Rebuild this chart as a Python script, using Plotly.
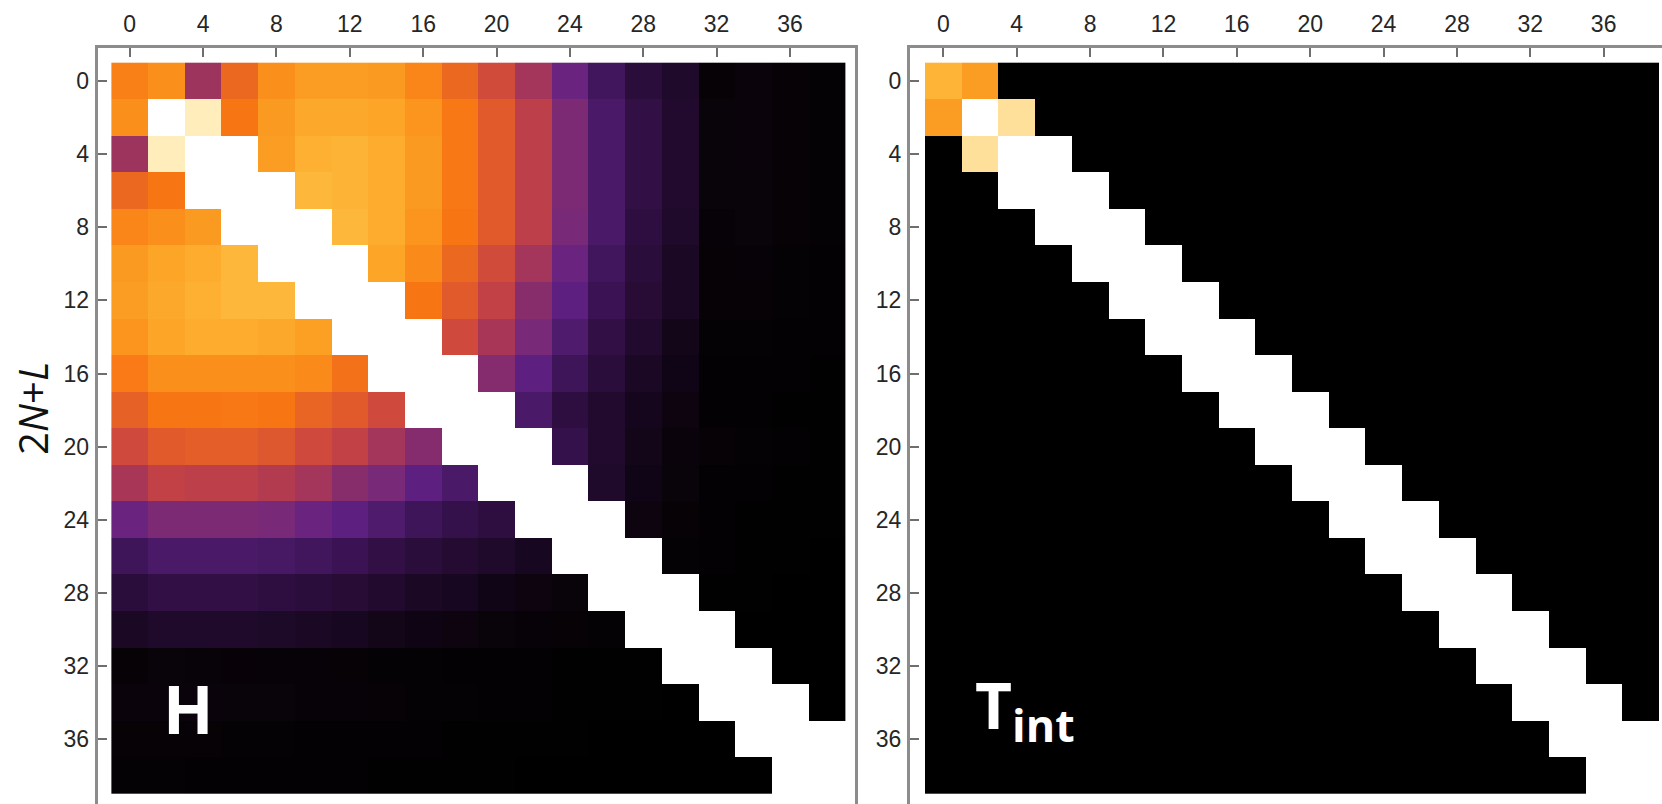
import plotly.graph_objects as go

# Index values along both matrix axes (2N+L = 0, 2, ..., 38)
idx = list(range(0, 40, 2))
tick_vals = list(range(0, 40, 4))

# Normalised matrix magnitudes for H (None = excluded entries)
N = None
H_vals = [
    [0.67, 0.70, 0.45, 0.62, 0.70, 0.73, 0.73, 0.72, 0.68, 0.62, 0.55, 0.46, 0.34, 0.23, 0.16, 0.12, 0.02, 0.035, 0.02, 0.015],
    [0.70, N, 0.98, 0.65, 0.72, 0.77, 0.77, 0.76, 0.71, 0.655, 0.58, 0.51, 0.38, 0.26, 0.18, 0.13, 0.03, 0.035, 0.02, 0.015],
    [0.45, 0.98, N, N, 0.73, 0.79, 0.80, 0.78, 0.72, 0.655, 0.58, 0.51, 0.38, 0.26, 0.18, 0.13, 0.03, 0.035, 0.02, 0.015],
    [0.62, 0.65, N, N, N, 0.82, 0.80, 0.78, 0.72, 0.655, 0.58, 0.51, 0.38, 0.26, 0.18, 0.13, 0.03, 0.03, 0.02, 0.015],
    [0.68, 0.70, 0.72, N, N, N, 0.82, 0.78, 0.71, 0.65, 0.58, 0.51, 0.37, 0.26, 0.17, 0.12, 0.025, 0.03, 0.02, 0.015],
    [0.72, 0.76, 0.78, 0.82, N, N, N, 0.76, 0.69, 0.62, 0.55, 0.46, 0.34, 0.23, 0.16, 0.10, 0.02, 0.025, 0.015, 0.01],
    [0.73, 0.77, 0.79, 0.82, 0.82, N, N, N, 0.65, 0.58, 0.52, 0.41, 0.31, 0.21, 0.15, 0.10, 0.02, 0.02, 0.015, 0.01],
    [0.71, 0.76, 0.78, 0.78, 0.77, 0.74, N, N, N, 0.545, 0.47, 0.37, 0.27, 0.18, 0.13, 0.07, 0.015, 0.015, 0.01, 0.01],
    [0.66, 0.70, 0.70, 0.70, 0.70, 0.69, 0.64, N, N, N, 0.40, 0.31, 0.22, 0.16, 0.10, 0.06, 0.012, 0.012, 0.01, 0.008],
    [0.60, 0.65, 0.65, 0.655, 0.65, 0.61, 0.58, 0.545, N, N, N, 0.26, 0.17, 0.13, 0.08, 0.045, 0.01, 0.01, 0.008, 0.006],
    [0.545, 0.58, 0.59, 0.59, 0.575, 0.545, 0.52, 0.46, 0.40, N, N, N, 0.19, 0.13, 0.07, 0.035, 0.02, 0.015, 0.01, 0.008],
    [0.47, 0.52, 0.51, 0.51, 0.49, 0.46, 0.41, 0.37, 0.31, 0.26, N, N, N, 0.12, 0.06, 0.03, 0.012, 0.01, 0.008, 0.006],
    [0.34, 0.38, 0.38, 0.38, 0.37, 0.34, 0.31, 0.27, 0.22, 0.19, 0.17, N, N, N, 0.045, 0.02, 0.01, 0.008, 0.006, 0.005],
    [0.22, 0.26, 0.26, 0.26, 0.25, 0.23, 0.21, 0.18, 0.16, 0.14, 0.12, 0.09, N, N, N, 0.015, 0.01, 0.008, 0.005, 0.004],
    [0.16, 0.18, 0.18, 0.18, 0.17, 0.16, 0.15, 0.13, 0.10, 0.09, 0.06, 0.045, 0.03, N, N, N, 0.008, 0.005, 0.004, 0.003],
    [0.10, 0.12, 0.12, 0.12, 0.11, 0.10, 0.09, 0.07, 0.055, 0.045, 0.03, 0.025, 0.02, 0.015, N, N, N, 0.004, 0.003, 0.002],
    [0.02, 0.03, 0.028, 0.026, 0.024, 0.022, 0.02, 0.018, 0.016, 0.014, 0.012, 0.01, 0.008, 0.006, 0.005, N, N, N, 0.002, 0.002],
    [0.035, 0.035, 0.035, 0.03, 0.03, 0.025, 0.022, 0.02, 0.018, 0.015, 0.012, 0.01, 0.008, 0.006, 0.005, 0.004, N, N, N, 0.001],
    [0.02, 0.02, 0.02, 0.018, 0.016, 0.014, 0.012, 0.01, 0.009, 0.008, 0.007, 0.006, 0.005, 0.004, 0.003, 0.003, 0.002, N, N, N],
    [0.015, 0.015, 0.014, 0.012, 0.011, 0.01, 0.009, 0.008, 0.007, 0.006, 0.005, 0.004, 0.003, 0.003, 0.002, 0.002, 0.001, 0.001, N, N],
]

# Normalised magnitudes for T_int: only the lowest entries are non-zero
T_nonzero = {(0, 0): 0.805, (0, 1): 0.73, (1, 0): 0.73, (1, 2): 0.93, (2, 1): 0.93}


def excluded(r, c):
    return H_vals[r][c] is None


T_vals = [[None if excluded(r, c) else T_nonzero.get((r, c), 0.0)
           for c in range(len(idx))] for r in range(len(idx))]

# Sunset-style colour map: black -> purple -> red -> orange -> cream
sunset = [
    [0.00, "#000000"], [0.02, "#060206"], [0.05, "#0e0412"], [0.10, "#1a0824"],
    [0.15, "#280c36"], [0.20, "#381250"], [0.26, "#4a1a68"], [0.31, "#5e2080"],
    [0.34, "#6a2480"], [0.38, "#7c2a74"], [0.42, "#8c2e68"], [0.46, "#a3365a"],
    [0.50, "#b83c4c"], [0.54, "#cc4640"], [0.58, "#e05a2c"], [0.62, "#ea6820"],
    [0.65, "#f87514"], [0.69, "#fa8a1a"], [0.72, "#fb9a20"], [0.76, "#fca527"],
    [0.79, "#fdb032"], [0.82, "#fdb83c"], [0.90, "#fed888"], [1.00, "#fff2c8"],
]

W, Hpx = 1662, 804

fig = go.Figure()
fig.add_trace(go.Heatmap(z=H_vals, x=idx, y=idx, colorscale=sunset, zmin=0, zmax=1,
                         showscale=False, xaxis="x", yaxis="y", hoverongaps=False))
fig.add_trace(go.Heatmap(z=T_vals, x=idx, y=idx, colorscale=sunset, zmin=0, zmax=1,
                         showscale=False, xaxis="x2", yaxis="y2", hoverongaps=False))

frame = "#8c8c8c"
axis_common = dict(
    showline=True, linecolor=frame, linewidth=3,
    ticks="inside", ticklen=9, tickwidth=2, tickcolor="#6e6e6e",
    showgrid=False, zeroline=False,
    tickmode="array", tickvals=tick_vals,
    tickfont=dict(family="Liberation Sans", size=23, color="#262626"),
)
x_common = dict(axis_common, side="top", ticklabelstandoff=4)
y_common = dict(axis_common, ticklabelstandoff=1)

y_dom = [0, 1 - 48 / Hpx]

fig.update_layout(
    width=W, height=Hpx,
    margin=dict(l=0, r=0, t=0, b=0),
    paper_bgcolor="white", plot_bgcolor="white",
    xaxis=dict(x_common, anchor="y",
               domain=[97.6 / W, 855 / W], range=[-1.752, 39.545], mirror=False),
    yaxis=dict(y_common, anchor="x", domain=y_dom,
               range=[39.547, -1.804], mirror=True),
    xaxis2=dict(x_common, anchor="y2",
                domain=[910 / W, 1.0], range=[-1.818, 39.18], mirror=False),
    yaxis2=dict(y_common, anchor="x2", domain=y_dom,
                range=[39.547, -1.804], mirror=False),
    annotations=[
        dict(text="2<i>N</i>+<i>L</i>", xref="paper", yref="paper",
             x=32 / W, y=1 - 409 / Hpx, textangle=-90, showarrow=False,
             font=dict(family="Open Sans", size=40, color="#111111"),
             xanchor="center", yanchor="middle"),
        dict(text="<b>H</b>", xref="x", yref="y", x=3.2, y=34.3,
             showarrow=False, xanchor="center", yanchor="middle",
             font=dict(family="Open Sans", size=66, color="white")),
        dict(text="<b>T<sub>int</sub></b>", xref="x2", yref="y2", x=1.62, y=34.3,
             showarrow=False, xanchor="left", yanchor="middle",
             font=dict(family="Open Sans", size=64, color="white")),
    ],
)

fig.write_html("out.html")
